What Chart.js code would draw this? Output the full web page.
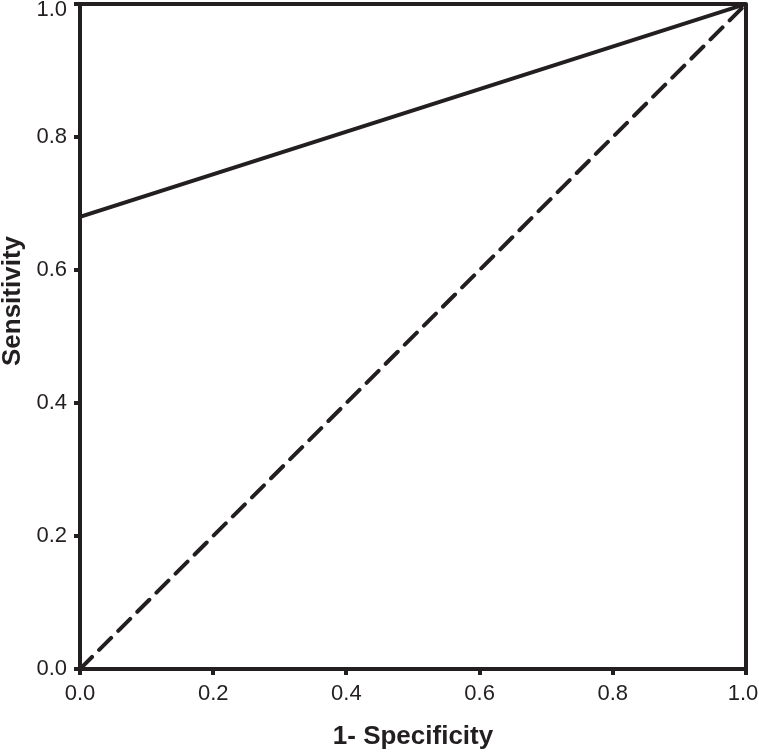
<!DOCTYPE html>
<html><head><meta charset="utf-8">
<script src="https://cdn.jsdelivr.net/npm/chart.js@4"></script>
<style>html,body{margin:0;padding:0;background:#fff}#wrap{width:759px;height:752px}</style>
</head><body><div id="wrap"><canvas id="c" width="759" height="752"></canvas></div>
<script>
const rocX = [0, 0, 1];
const rocY = [0, 0.68, 1];
const refX = [0, 1];
const refY = [0, 1];
const tickValues = [0, 0.2, 0.4, 0.6, 0.8, 1.0];
const xTitle = '1- Specificity';
const yTitle = 'Sensitivity';
const INK = '#231f20';

const frame = {
  id: 'frame',
  afterDatasetsDraw(chart) {
    const {ctx, chartArea: a} = chart;
    ctx.save();
    ctx.strokeStyle = INK; ctx.lineWidth = 4; ctx.lineJoin = 'round';
    ctx.strokeRect(a.left, a.top, a.right - a.left, a.bottom - a.top);
    ctx.restore();
  }
};
const yTitlePlugin = {
  id: 'yTitle',
  afterDraw(chart) {
    const {ctx} = chart;
    ctx.save();
    ctx.translate(13, 301);
    ctx.rotate(-Math.PI / 2);
    ctx.fillStyle = INK;
    ctx.font = 'bold 26px "Liberation Sans"';
    ctx.textAlign = 'center';
    ctx.textBaseline = 'middle';
    ctx.fillText(yTitle, 0, 0);
    ctx.restore();
  }
};

new Chart(document.getElementById('c'), {
  type: 'scatter',
  data: {
    datasets: [
      { data: rocX.map((x, i) => ({x, y: rocY[i]})), showLine: true, borderColor: INK, borderWidth: 4, pointRadius: 0, fill: false, borderJoinStyle: 'round' },
      { data: refX.map((x, i) => ({x, y: refY[i]})), showLine: true, borderColor: INK, borderWidth: 4, borderDash: [17, 10], borderCapStyle: 'round', pointRadius: 0, fill: false }
    ]
  },
  options: {
    responsive: false, animation: false,
    layout: { padding: { top: 4, right: 13, left: 0, bottom: 0 } },
    plugins: { legend: { display: false }, tooltip: { enabled: false } },
    scales: {
      x: {
        type: 'linear', min: 0, max: 1,
        afterBuildTicks: s => { s.ticks = tickValues.map(v => ({value: v})); },
        afterFit: s => { s.height = 83; s.paddingLeft = 0; s.paddingRight = 0; },
        ticks: { callback: (v, i, t) => v.toFixed(1) + (i === t.length - 1 ? ' ' : ''), color: INK, font: { family: 'Liberation Sans', size: 22 }, padding: 6, maxRotation: 0 },
        grid: { drawOnChartArea: false, tickLength: 6, lineWidth: 4, color: INK, tickColor: INK },
        border: { display: true, width: 4, color: INK },
        title: { display: true, text: xTitle, color: INK, font: { family: 'Liberation Sans', size: 26, weight: 'bold' }, padding: { top: 8, bottom: 0 } }
      },
      y: {
        type: 'linear', min: 0, max: 1,
        afterBuildTicks: s => { s.ticks = tickValues.map(v => ({value: v})); },
        afterFit: s => { s.width = 80; s.paddingTop = 0; s.paddingBottom = 0; },
        ticks: {
          callback: (v, i, t) => i === t.length - 1 ? ['', v.toFixed(1)] : v.toFixed(1),
          color: INK,
          font: ctx => ({ family: 'Liberation Sans', size: 22, lineHeight: ctx.index === tickValues.length - 1 ? '11px' : 1.2 }),
          padding: 7
        },
        grid: { drawOnChartArea: false, tickLength: 6, lineWidth: 4, color: INK, tickColor: INK },
        border: { display: true, width: 4, color: INK },
        title: { display: false }
      }
    }
  },
  plugins: [frame, yTitlePlugin]
});
</script></body></html>
